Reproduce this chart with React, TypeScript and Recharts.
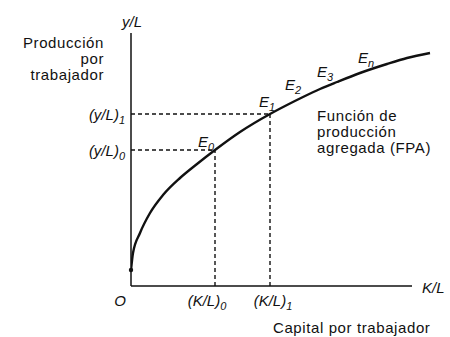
import { LineChart, Line, XAxis, YAxis, ReferenceLine, ReferenceDot, Customized } from "recharts";

// capital per worker (K/L) and output per worker (y/L)
const capitalPorTrabajador = [0, 2, 9, 19, 32, 49, 66, 84, 109, 139, 156, 172, 189, 206, 229, 256, 276, 299];
const produccionPorTrabajador = [16, 33, 53, 73, 91, 108, 122, 136, 154, 172, 181, 189, 197, 204, 213, 222, 228, 233];

// the two highlighted equilibria E0 and E1
const puntosK = [84, 139];
const puntosY = [136, 172];
const xTickLabels = ["O", "(K/L)", "(K/L)"];
const xTickSubs = ["", "0", "1"];
const yTickLabels = ["(y/L)", "(y/L)"];
const yTickSubs = ["0", "1"];

// point labels along the curve
const eSubs = ["0", "1", "2", "3", "n"];
const eK = [67, 128, 154, 186, 227];
const eY = [139, 179, 196, 209, 223];

const data = capitalPorTrabajador.map((k, i) => ({ k, y: produccionPorTrabajador[i] }));

const FONT = "'Liberation Sans', Arial, Helvetica, sans-serif";
const INK = "#111";

const xOffsets = [-11, -8, 3];

const XTick = (props: any) => {
  const { x, y, index } = props;
  const i = index;
  return (
    <text x={x + xOffsets[i]} y={y + 12} textAnchor="middle" fontFamily={FONT} fontStyle="italic" fontSize={15} fill={INK}>
      {xTickLabels[i]}
      {xTickSubs[i] && <tspan fontSize={11} dy={4}>{xTickSubs[i]}</tspan>}
    </text>
  );
};

const YTick = (props: any) => {
  const { y, index } = props;
  return (
    <text x={125} y={y + 6} textAnchor="end" fontFamily={FONT} fontStyle="italic" fontSize={15} fill={INK}>
      {yTickLabels[index]}
      <tspan fontSize={11} dy={4}>{yTickSubs[index]}</tspan>
    </text>
  );
};

const ELabel = (sub: string) => (props: any) => {
  const { viewBox } = props;
  return (
    <text x={viewBox.x} y={viewBox.y} fontFamily={FONT} fontStyle="italic" fontSize={15} fill={INK}>
      E<tspan fontSize={11} dy={4}>{sub}</tspan>
    </text>
  );
};

const Textos = () => (
  <g fontFamily={FONT} fill={INK} fontSize={15} letterSpacing={0.6}>
    <text x={132} y={27} textAnchor="middle" fontStyle="italic" letterSpacing={0}>y/L</text>
    <text x={104} y={48} textAnchor="end">Producción</text>
    <text x={104} y={64} textAnchor="end">por</text>
    <text x={104} y={80} textAnchor="end">trabajador</text>
    <text x={317} y={121}>Función de</text>
    <text x={317} y={137}>producción</text>
    <text x={317} y={153}>agregada (FPA)</text>
    <text x={422} y={293} fontStyle="italic" letterSpacing={0}>K/L</text>
    <text x={273} y={333}>Capital por trabajador</text>
  </g>
);

export default function App() {
  return (
    <div style={{ position: "absolute", left: 0, top: 0, background: "#fff" }}>
      <LineChart width={450} height={337} data={data} margin={{ top: 33, right: 19, left: 0, bottom: 21 }}>
        <XAxis
          type="number"
          dataKey="k"
          domain={[0, 300]}
          ticks={[0, ...puntosK]}
          tick={<XTick />}
          axisLine={false}
          tickLine={false}
          height={30}
          allowDataOverflow
        />
        <YAxis
          type="number"
          domain={[0, 253]}
          ticks={puntosY}
          tick={<YTick />}
          axisLine={{ stroke: INK, strokeWidth: 1.5 }}
          tickLine={false}
          width={131}
        />
        <ReferenceLine segment={[{ x: 0, y: 0 }, { x: 281, y: 0 }]} stroke={INK} strokeWidth={1.5} />
        {puntosK.map((k, i) => (
          <ReferenceLine key={"h" + i} segment={[{ x: 0, y: puntosY[i] }, { x: k, y: puntosY[i] }]} stroke={INK} strokeWidth={1.4} strokeDasharray="4 3" />
        ))}
        {puntosK.map((k, i) => (
          <ReferenceLine key={"v" + i} segment={[{ x: k, y: 0 }, { x: k, y: puntosY[i] }]} stroke={INK} strokeWidth={1.4} strokeDasharray="4 3" />
        ))}
        <Line type="monotone" dataKey="y" stroke={INK} strokeWidth={2.4} dot={false} isAnimationActive={false} />
        <ReferenceDot x={capitalPorTrabajador[0]} y={produccionPorTrabajador[0]} r={2.2} fill={INK} stroke="none" />
        {eSubs.map((s, i) => (
          <ReferenceDot key={"e" + s} x={eK[i]} y={eY[i]} r={0} stroke="none" fill="none" label={ELabel(s)} />
        ))}
        <Customized component={Textos} />
      </LineChart>
    </div>
  );
}
